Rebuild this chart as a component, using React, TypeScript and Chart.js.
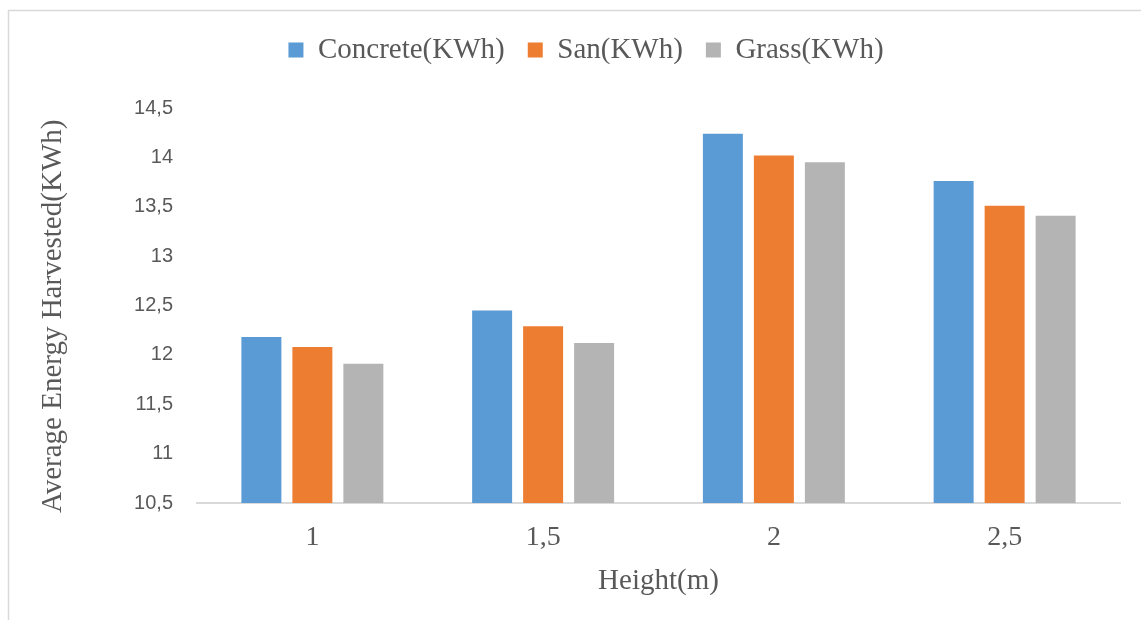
import React, { useEffect, useRef } from 'react';
import { Chart, registerables } from 'chart.js';

Chart.register(...registerables);

// Heights (m) on the category axis
const heights = ['1', '1,5', '2', '2,5'];

// Average energy harvested per surface (KWh)
const concrete = [12.18, 12.45, 14.24, 13.76];
const san = [12.08, 12.29, 14.02, 13.51];
const grass = [11.91, 12.12, 13.95, 13.41];

const seriesNames = ['Concrete(KWh)', 'San(KWh)', 'Grass(KWh)'];
const seriesColors = ['#5b9bd5', '#ed7d31', '#b4b4b4'];

const yMin = 10.5;
const yMax = 14.5;
const yStep = 0.5;

const serif = '"Liberation Serif", "Times New Roman", serif';
const sans = '"Liberation Sans", Arial, sans-serif';
const textColor = '#595959';
const lineColor = '#d9d9d9';

// Light frame around the whole chart, running past the right and bottom edges
const framePlugin = {
  id: 'frame',
  beforeDraw(chart: any) {
    const { ctx } = chart;
    ctx.save();
    ctx.strokeStyle = lineColor;
    ctx.lineWidth = 1.5;
    ctx.strokeRect(8.5, 10.5, chart.width + 40, chart.height + 40);
    ctx.restore();
  },
};

const formatComma = (v: number) => String(+v.toFixed(1)).replace('.', ',');

export default function App() {
  const canvasRef = useRef<HTMLCanvasElement | null>(null);

  useEffect(() => {
    if (!canvasRef.current) return;
    const chart = new Chart(canvasRef.current, {
      type: 'bar',
      data: {
        labels: heights,
        datasets: [concrete, san, grass].map((values, i) => ({
          label: seriesNames[i],
          data: values,
          backgroundColor: seriesColors[i],
          borderWidth: 0,
          categoryPercentage: 0.663,
          barPercentage: 0.784,
        })),
      },
      options: {
        animation: false,
        responsive: true,
        maintainAspectRatio: false,
        layout: { padding: { left: 52, right: 21, top: 12.5, bottom: 0 } },
        plugins: {
          legend: {
            position: 'top',
            labels: {
              boxWidth: 15,
              boxHeight: 15,
              padding: 23,
              color: textColor,
              font: { family: serif, size: 29 },
            },
          },
          // empty spacer between the legend and the plot
          title: {
            display: true,
            text: '',
            weight: 500,
            padding: 0,
            font: { size: 33.5, lineHeight: 1 },
          },
          tooltip: { enabled: false },
        },
        scales: {
          x: {
            grid: { display: false, drawTicks: false },
            border: { display: true, color: lineColor, width: 2 },
            ticks: {
              color: textColor,
              font: { family: serif, size: 28 },
              padding: 18,
            },
            title: {
              display: true,
              text: 'Height(m)',
              color: textColor,
              font: { family: serif, size: 29 },
              padding: { top: 0, bottom: 21.6 },
            },
            afterFit(scale: any) {
              scale.height = 117;
            },
          },
          y: {
            min: yMin,
            max: yMax,
            grid: { display: false, drawTicks: false },
            border: { display: false },
            ticks: {
              stepSize: yStep,
              color: textColor,
              font: { family: sans, size: 20 },
              padding: 24,
              callback: (v: any) => formatComma(Number(v)),
            },
            title: {
              display: true,
              text: 'Average Energy Harvested(KWh)   ',
              color: textColor,
              font: { family: serif, size: 29 },
              padding: { top: -16, bottom: 0 },
            },
            afterFit(scale: any) {
              scale.width = 145;
            },
          },
        },
      },
      plugins: [framePlugin],
    } as any);
    return () => chart.destroy();
  }, []);

  return (
    <div style={{ position: 'absolute', left: 0, top: 0, width: 1141, height: 620, background: '#fff' }}>
      <canvas ref={canvasRef} />
    </div>
  );
}
